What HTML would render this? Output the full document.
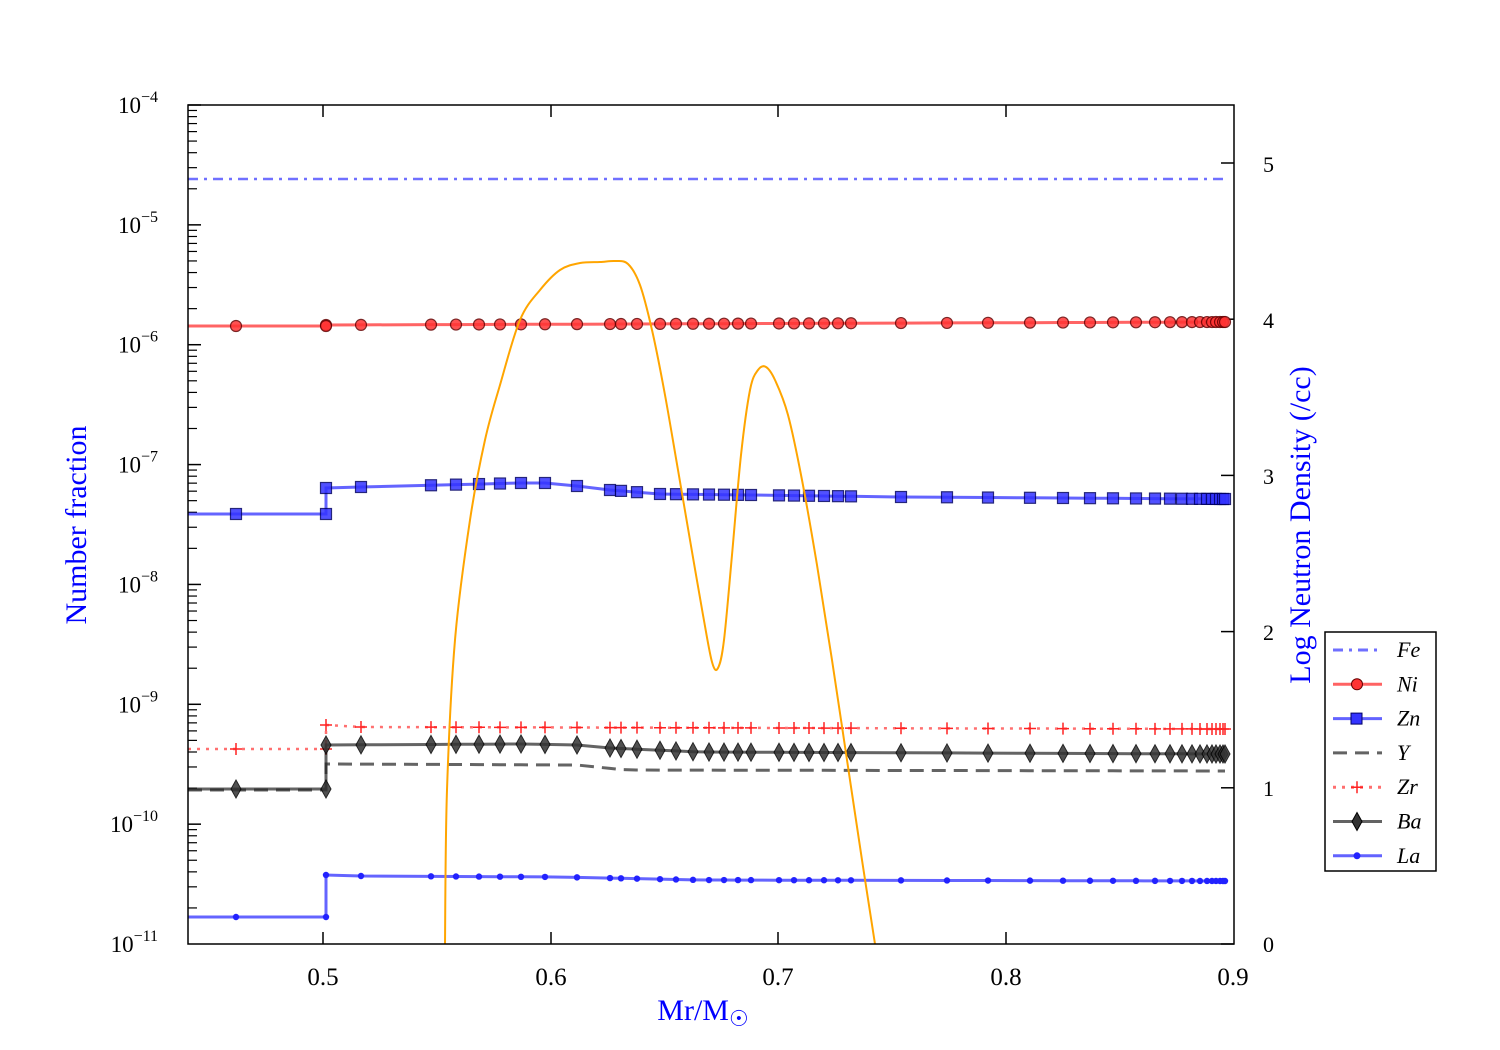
<!DOCTYPE html>
<html><head><meta charset="utf-8"><style>body{margin:0;background:#fff}svg{display:block;font-family:"Liberation Serif",serif}</style></head>
<body>
<svg id="s" width="1500" height="1050" xmlns="http://www.w3.org/2000/svg">
<rect width="1500" height="1050" fill="#fff"/>
<g id="g"></g>
<rect x="188" y="105" width="1046" height="839" fill="none" stroke="#000" stroke-width="1.5"/>
<g font-size="25" text-anchor="middle">
<text x="323" y="985">0.5</text><text x="551" y="985">0.6</text><text x="778" y="985">0.7</text><text x="1006" y="985">0.8</text><text x="1233" y="985">0.9</text>
</g>
<g font-size="23" text-anchor="end" id="yl"></g>
<g font-size="22">
<text x="1263" y="952">0</text><text x="1263" y="796">1</text><text x="1263" y="640">2</text><text x="1263" y="484">3</text><text x="1263" y="328">4</text><text x="1263" y="172">5</text>
</g>
<text x="703" y="1020" font-size="30" fill="#00f" text-anchor="middle">Mr/M<tspan font-size="22" dy="6">☉</tspan></text>
<text transform="translate(86,525) rotate(-90)" font-size="30" fill="#00f" text-anchor="middle">Number fraction</text>
<text transform="translate(1310,525) rotate(-90)" font-size="30" fill="#00f" text-anchor="middle">Log Neutron Density (/cc)</text>
<rect x="1325" y="632" width="111" height="239" fill="#fff" stroke="#000" stroke-width="1.5"/>
<g id="leg" font-size="22" font-style="italic"></g>
</svg>
<script>
const g=document.getElementById('g'),NS='http://www.w3.org/2000/svg';
function el(t,a,p){const e=document.createElementNS(NS,t);for(const k in a)e.setAttribute(k,a[k]);(p||g).appendChild(e);return e;}
for(let d=0;d<7;d++){const y0=105+d*119.86;
 el('line',{x1:188,x2:201,y1:y0,y2:y0,stroke:'#000','stroke-width':1.5});
 for(let m=2;m<10;m++){const y=y0+119.86-119.86*Math.log10(m);el('line',{x1:188,x2:197,y1:y,y2:y,stroke:'#000','stroke-width':1.2});}}
const yl=document.getElementById('yl');
for(let d=0;d<8;d++){const t=el('text',{x:158,y:113+d*119.86},yl);t.innerHTML='10<tspan font-size="16" dy="-11">−'+(4+d)+'</tspan>';}
for(let i=0;i<6;i++){const y=944-i*156.2;el('line',{x1:1221,x2:1234,y1:y,y2:y,stroke:'#000','stroke-width':1.5});}
[323,551,778,1006].forEach(x=>{el('line',{x1:x,x2:x,y1:944,y2:932,stroke:'#000','stroke-width':1.5});el('line',{x1:x,x2:x,y1:105,y2:117,stroke:'#000','stroke-width':1.5});});
const X=[236,326,361,431,456,479,500,521,545,577,610,621,637,660,676,693,709,724,738,751,779,794,809,824,838,851,901,947,988,1030,1063,1090,1113,1136,1155,1170,1182,1192,1200,1207,1212,1216,1220,1223,1225];
function interp(pts,x){for(let i=0;i<pts.length-1;i++){if(x<=pts[i+1][0])return pts[i][1]+(pts[i+1][1]-pts[i][1])*(x-pts[i][0])/(pts[i+1][0]-pts[i][0]);}return pts[pts.length-1][1];}
function series(l,r,mid,col,opts){
 const pts=[[326,r[0]]].concat(mid||[]).concat([[1225,r[1]]]);
 let d='M188,'+l+' L326,'+l+' L326,'+pts[0][1];
 X.filter(x=>x>326).forEach(x=>d+=' L'+x+','+interp(pts,x).toFixed(1));
 el('path',Object.assign({d:d,fill:'none',stroke:col,'stroke-width':3,opacity:0.7},opts.line||{}));
 if(opts.mk){X.forEach(x=>{const y=x<326?l:interp(pts,x);opts.mk(x,y);});opts.mk(326,l);}
}
series(179,[179,179],[],'#33f',{line:{'stroke-dasharray':'10,6,3,6','stroke-width':2.5}});
series(326,[325,322],[],'#f22',{mk:(x,y)=>el('circle',{cx:x,cy:y,r:5.5,fill:'#f33',stroke:'#600','stroke-width':1.2,opacity:0.85})});
series(514,[488,499],[[361,487],[521,483],[545,483],[577,486],[610,490],[660,494],[751,495],[901,497]],'#22f',{mk:(x,y)=>el('rect',{x:x-5.5,y:y-5.5,width:11,height:11,fill:'#33f',stroke:'#006','stroke-width':1.2,opacity:0.85})});
series(790,[764,771],[[577,765],[625,770]],'#222',{line:{'stroke-dasharray':'14,8'}});
series(749,[725,729],[[361,727]],'#f33',{line:{'stroke-dasharray':'3,6','stroke-width':2.5},mk:(x,y)=>{el('path',{d:`M${x-6},${y}h12M${x},${y-6}v12`,stroke:'#f22','stroke-width':1.5})}});
series(789,[745,754],[[521,744],[577,745],[610,748],[700,752]],'#222',{mk:(x,y)=>el('path',{d:`M${x},${y-9}L${x+5},${y}L${x},${y+9}L${x-5},${y}Z`,fill:'#333',stroke:'#000','stroke-width':1,opacity:0.85})});
series(917,[875,881],[[361,876],[560,877],[700,880]],'#22f',{mk:(x,y)=>el('circle',{cx:x,cy:y,r:3.2,fill:'#22f'})});
const o=[[445,944],[447,790],[455,640],[470,520],[485,440],[500,385],[520,320],[540,290],[560,270],[580,263],[600,262],[615,261],[628,264],[640,285],[652,330],[665,395],[678,470],[690,540],[703,615],[712,662],[718,668],[724,640],[732,555],[741,455],[750,390],[758,370],[766,367],[775,380],[788,415],[802,480],[817,565],[832,660],[847,760],[862,860],[875,944]];
let d='M'+o[0].join(',');
for(let i=0;i<o.length-1;i++){const p0=o[Math.max(0,i-1)],p1=o[i],p2=o[i+1],p3=o[Math.min(o.length-1,i+2)];
 const c1=[p1[0]+(p2[0]-p0[0])/6,p1[1]+(p2[1]-p0[1])/6],c2=[p2[0]-(p3[0]-p1[0])/6,p2[1]-(p3[1]-p1[1])/6];
 d+=` C${c1[0].toFixed(1)},${c1[1].toFixed(1)} ${c2[0].toFixed(1)},${c2[1].toFixed(1)} ${p2[0]},${p2[1]}`;}
el('path',{d:d,fill:'none',stroke:'#ffa500','stroke-width':2});
const L=document.getElementById('leg');const labs=['Fe','Ni','Zn','Y','Zr','Ba','La'];
labs.forEach((t,i)=>{const y=650+i*34.3;const tx=el('text',{x:1397,y:y+7},L);tx.textContent=t;
 const ln={x1:1333,x2:1382,y1:y,y2:y,'stroke-width':3,opacity:0.7};
 if(i==0)el('line',Object.assign(ln,{stroke:'#33f','stroke-dasharray':'10,6,3,6'}),L);
 if(i==1){el('line',Object.assign(ln,{stroke:'#f22'}),L);el('circle',{cx:1357,cy:y,r:5.5,fill:'#f33',stroke:'#600'},L);}
 if(i==2){el('line',Object.assign(ln,{stroke:'#22f'}),L);el('rect',{x:1351,y:y-5.5,width:11,height:11,fill:'#33f',stroke:'#006'},L);}
 if(i==3)el('line',Object.assign(ln,{stroke:'#222','stroke-dasharray':'14,8'}),L);
 if(i==4){el('line',Object.assign(ln,{stroke:'#f33','stroke-dasharray':'3,6'}),L);el('path',{d:`M1351,${y}h12M1357,${y-6}v12`,stroke:'#f22','stroke-width':1.5},L);}
 if(i==5){el('line',Object.assign(ln,{stroke:'#222'}),L);el('path',{d:`M1357,${y-9}L1362,${y}L1357,${y+9}L1352,${y}Z`,fill:'#333',stroke:'#000'},L);}
 if(i==6){el('line',Object.assign(ln,{stroke:'#22f'}),L);el('circle',{cx:1357,cy:y,r:3.5,fill:'#22f'},L);}
});
</script>
</body></html>
